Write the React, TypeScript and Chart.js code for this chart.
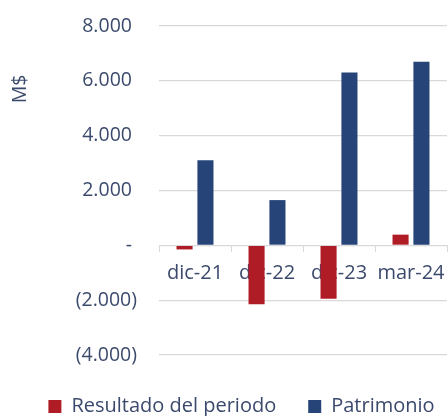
import React, { useEffect, useRef } from "react";
import { Chart, registerables } from "chart.js";

Chart.register(...registerables);

const categories = ["dic-21", "dic-22", "dic-23", "mar-24"];
const resultado = [-150, -2150, -1950, 390];
const patrimonio = [3100, 1650, 6300, 6700];
const seriesNames = ["Resultado del periodo", "Patrimonio"];
const yMin = -4000;
const yMax = 8000;
const yStep = 2000;
const yTitle = "M$";

const TEXT = "#3b4a6c";
const GRID = "#d9d9d9";
const RED = "#b01c26";
const BLUE = "#264478";
const FONT = "'Open Sans', 'Noto Sans', sans-serif";

function fmt(v: number): string {
  if (v === 0) return "- ";
  const s = Math.abs(v).toString().replace(/\B(?=(\d{3})+(?!\d))/g, ".");
  return v < 0 ? `(${s})` : `${s} `;
}

const yTitlePlugin = {
  id: "yTitlePlugin",
  afterDraw(chart: any) {
    const ctx = chart.ctx;
    ctx.save();
    ctx.translate(20, 89);
    ctx.rotate(-Math.PI / 2);
    ctx.fillStyle = TEXT;
    ctx.font = `19.5px ${FONT}`;
    ctx.textAlign = "center";
    ctx.textBaseline = "middle";
    ctx.fillText(yTitle, 0, 0);
    ctx.restore();
  },
};

export default function App() {
  const ref = useRef<HTMLCanvasElement>(null);
  useEffect(() => {
    if (!ref.current) return;
    const chart = new Chart(ref.current, {
      type: "bar",
      data: {
        labels: categories,
        datasets: [
          {
            label: seriesNames[0],
            data: resultado,
            backgroundColor: RED,
            categoryPercentage: 0.58,
            barPercentage: 0.77,
          },
          {
            label: seriesNames[1],
            data: patrimonio,
            backgroundColor: BLUE,
            categoryPercentage: 0.58,
            barPercentage: 0.77,
          },
        ],
      },
      options: {
        responsive: false,
        animation: false,
        layout: { padding: { left: 0, right: 0, top: 26, bottom: 0 } },
        plugins: {
          tooltip: { enabled: false },
          legend: {
            position: "bottom",
            maxHeight: 61,
            title: { display: true, text: "", font: { size: 1, lineHeight: 1 }, padding: { top: 0, bottom: 8.5 } },
            labels: {
              boxWidth: 13,
              boxHeight: 13,
              padding: 32,
              color: TEXT,
              font: { family: FONT, size: 20 },
            },
          },
        },
        scales: {
          x: {
            position: { y: 0 } as any,
            grid: { drawOnChartArea: false, drawTicks: true, tickLength: 6, color: GRID, offset: true },
            border: { display: true, color: GRID, width: 1 },
            ticks: { color: TEXT, font: { family: FONT, size: 20 }, padding: 10, maxRotation: 0, autoSkip: false },
          },
          y: {
            position: "left",
            min: yMin,
            max: yMax,
            grid: { color: GRID, lineWidth: 1.3, drawTicks: false },
            border: { display: false },
            ticks: {
              stepSize: yStep,
              padding: 22,
              color: TEXT,
              font: { family: FONT, size: 19.5 },
              callback: (v: any) => fmt(Number(v)),
            },
            afterFit: (s: any) => {
              s.width = 159;
              s.paddingTop = 0;
              s.paddingBottom = 0;
            },
          },
          yRight: {
            position: "right",
            display: true,
            grid: { display: false, drawTicks: false },
            border: { display: false },
            ticks: { display: false },
            afterFit: (s: any) => {
              s.width = 36;
            },
          },
        },
      },
      plugins: [yTitlePlugin],
    });
    return () => chart.destroy();
  }, []);
  return (
    <div style={{ position: "fixed", left: 0, top: 0, width: 448, height: 416, overflow: "hidden", background: "#fff" }}>
      <canvas ref={ref} width={483} height={416} style={{ display: "block" }} />
    </div>
  );
}
